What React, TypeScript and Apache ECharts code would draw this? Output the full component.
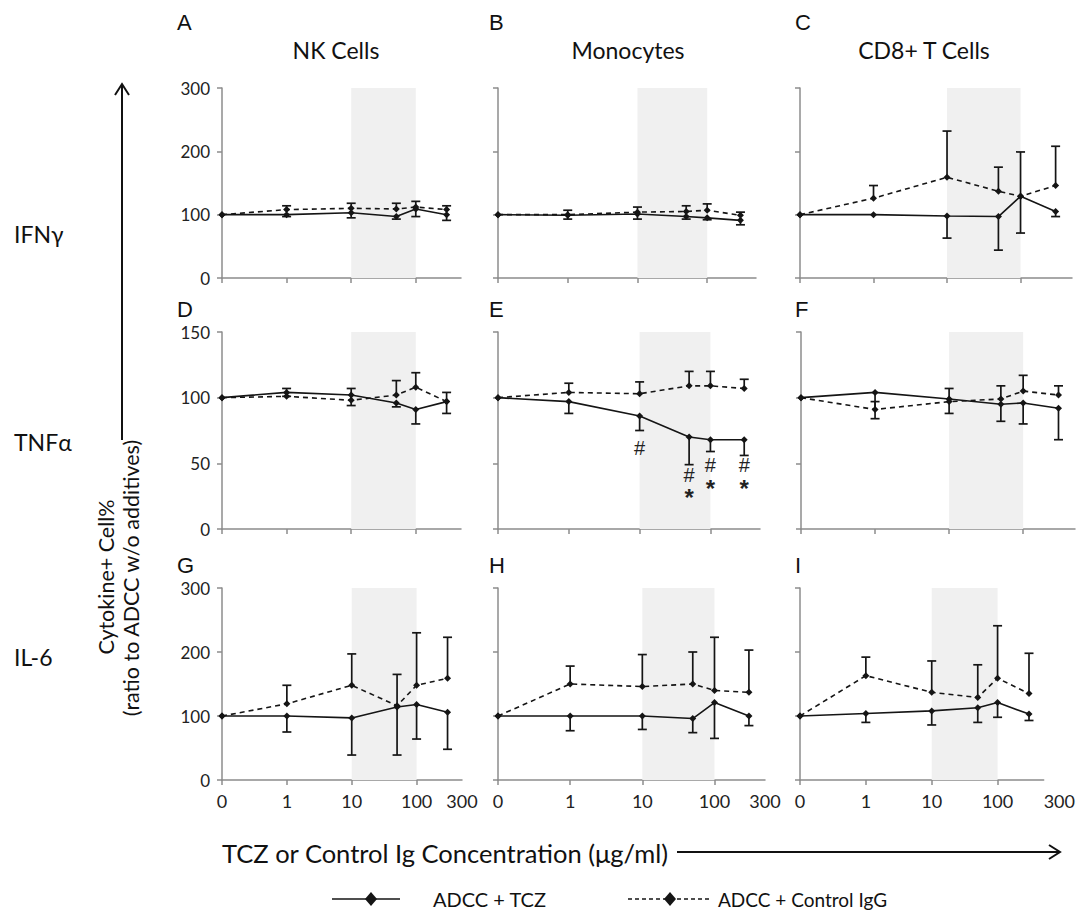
import React, { useEffect, useRef } from "react";
import * as echarts from "echarts";

// ---------- data ----------
const concentrations = [0, 1, 10, 50, 100, 300];
const xTickValues = [0, 1, 10, 100, 300];
const xTickLabels = ["0", "1", "10", "100", "300"];
const cellTypes = ["NK Cells", "Monocytes", "CD8+ T Cells"];
const cytokines = ["IFNγ", "TNFα", "IL-6"];
const panelLetters = ["A", "B", "C", "D", "E", "F", "G", "H", "I"];
const shadeRange = [10, 100];

// ADCC + TCZ (solid), lower error bars
const tczA = [100, 100, 103, 97, 109, 100];
const tczErrA = [0, 3, 8, 4, 12, 9];
const tczB = [100, 99, 101, 97, 95, 91];
const tczErrB = [0, 6, 8, 4, 3, 7];
const tczC = [100, 100, 98, 97, 129, 105];
const tczErrC = [0, 0, 35, 53, 58, 8];
const tczD = [100, 104, 102, 96, 91, 97];
const tczErrD = [0, 3, 8, 3, 11, 9];
const tczE = [100, 97, 86, 70, 68, 68];
const tczErrE = [0, 9, 11, 21, 9, 12];
const tczF = [100, 104, 99, 95, 96, 92];
const tczErrF = [0, 20, 11, 13, 16, 24];
const tczG = [100, 100, 97, 114, 118, 106];
const tczErrG = [0, 25, 58, 75, 54, 58];
const tczH = [100, 100, 100, 96, 121, 100];
const tczErrH = [0, 23, 21, 22, 56, 15];
const tczI = [100, 104, 108, 113, 121, 103];
const tczErrI = [0, 14, 22, 23, 23, 10];

// ADCC + Control IgG (dashed), upper error bars
const igA = [100, 108, 110, 109, 112, 108];
const igErrA = [0, 6, 8, 9, 9, 6];
const igB = [100, 100, 104, 105, 107, 99];
const igErrB = [0, 7, 8, 9, 10, 5];
const igC = [100, 126, 159, 137, 129, 146];
const igErrC = [0, 20, 73, 38, 70, 62];
const igD = [100, 101, 98, 102, 108, 97];
const igErrD = [0, 6, 9, 11, 11, 7];
const igE = [100, 104, 103, 109, 109, 107];
const igErrE = [0, 7, 9, 11, 11, 7];
const igF = [100, 91, 97, 99, 105, 102];
const igErrF = [0, 6, 10, 10, 12, 7];
const igG = [100, 119, 148, 116, 148, 159];
const igErrG = [0, 29, 49, 49, 82, 64];
const igH = [100, 150, 146, 150, 140, 137];
const igErrH = [0, 28, 50, 50, 83, 66];
const igI = [100, 163, 137, 129, 159, 135];
const igErrI = [0, 29, 49, 51, 82, 63];

// significance marks in panel E
const annotConc = [10, 50, 50, 100, 100, 300, 300];
const annotMarks = ["#", "#", "*", "#", "*", "#", "*"];
const annotY = [62, 41, 24, 49, 31, 49, 31];

const yMaxByRow = [300, 150, 300];
const yStepByRow = [100, 50, 100];

const tczSets = [tczA, tczB, tczC, tczD, tczE, tczF, tczG, tczH, tczI];
const tczErrSets = [tczErrA, tczErrB, tczErrC, tczErrD, tczErrE, tczErrF, tczErrG, tczErrH, tczErrI];
const igSets = [igA, igB, igC, igD, igE, igF, igG, igH, igI];
const igErrSets = [igErrA, igErrB, igErrC, igErrD, igErrE, igErrF, igErrG, igErrH, igErrI];

// ---------- layout ----------
const X_MAX = 3.7;
const grids = [
  { left: 222, top: 88, width: 239, height: 190 },
  { left: 498, top: 88, width: 258, height: 190 },
  { left: 800, top: 88, width: 272, height: 190 },
  { left: 222, top: 332, width: 239, height: 197 },
  { left: 498, top: 332, width: 262, height: 197 },
  { left: 801, top: 332, width: 274, height: 197 },
  { left: 222, top: 588, width: 240, height: 192 },
  { left: 498, top: 588, width: 267, height: 192 },
  { left: 800, top: 588, width: 255, height: 192 },
];
const letterPos = [
  [177, 22], [489, 22], [795, 22],
  [177, 309], [489, 309], [795, 309],
  [177, 565], [489, 565], [795, 565],
];

const xPos = (c: number) => (c === 0 ? 0 : 1 + Math.log10(c));

const INK = "#151515";
const AXIS = "#8c8c8c";
const CAL = "Lato, 'Open Sans', sans-serif";
const ARIAL = "'Liberation Sans', Arial, sans-serif";

function xLabel(v: number) {
  if (Math.abs(v - X_MAX) < 1e-6) return xTickLabels[xTickLabels.length - 1];
  for (let k = 0; k < xTickValues.length - 1; k++) {
    if (Math.abs(xPos(xTickValues[k]) - v) < 1e-6) return xTickLabels[k];
  }
  return "";
}

function errRender(dir: number) {
  return (params: any, api: any) => {
    const x = api.value(0);
    const y = api.value(1);
    const e = api.value(2);
    if (!e) return null;
    const p0 = api.coord([x, y]);
    const p1 = api.coord([x, y + dir * e]);
    const hw = 4.5;
    const st = { stroke: INK, lineWidth: 1.7 };
    return {
      type: "group",
      children: [
        { type: "line", shape: { x1: p0[0], y1: p0[1], x2: p1[0], y2: p1[1] }, style: st },
        { type: "line", shape: { x1: p1[0] - hw, y1: p1[1], x2: p1[0] + hw, y2: p1[1] }, style: st },
      ],
    };
  };
}

function buildOption() {
  const grid: any[] = [];
  const xAxis: any[] = [];
  const yAxis: any[] = [];
  const series: any[] = [];

  for (let i = 0; i < 9; i++) {
    const row = Math.floor(i / 3);
    const col = i % 3;
    grid.push({ ...grids[i], containLabel: false });
    xAxis.push({
      gridIndex: i,
      type: "value",
      min: 0,
      max: X_MAX,
      interval: 1,
      axisLine: { show: true, lineStyle: { color: AXIS, width: 1.5 } },
      axisTick: { show: true, customValues: [0, 1, 2, 3], length: 5, lineStyle: { color: AXIS, width: 1.5 } },
      axisLabel: {
        show: row === 2,
        showMinLabel: true,
        showMaxLabel: true,
        formatter: (v: number) => xLabel(v),
        fontSize: 18,
        fontFamily: CAL,
        color: "#222",
        margin: 12,
        alignMaxLabel: col === 2 ? "left" : "center",
      },
      splitLine: { show: false },
    });
    yAxis.push({
      gridIndex: i,
      type: "value",
      min: 0,
      max: yMaxByRow[row],
      interval: yStepByRow[row],
      axisLine: { show: true, lineStyle: { color: AXIS, width: 1.5 } },
      axisTick: { show: true, length: 5, lineStyle: { color: AXIS, width: 1.5 } },
      axisLabel: { show: col === 0, fontSize: 17, fontFamily: CAL, color: "#222", margin: 12 },
      splitLine: { show: false },
    });

    const tcz = tczSets[i];
    const ig = igSets[i];
    series.push({
      type: "line",
      name: "ADCC + TCZ",
      xAxisIndex: i,
      yAxisIndex: i,
      data: concentrations.map((c, j) => [xPos(c), tcz[j]]),
      symbol: "diamond",
      symbolSize: 7,
      itemStyle: { color: INK },
      lineStyle: { color: INK, width: 1.6, type: "solid" },
      z: 3,
      markArea: {
        silent: true,
        z: 1,
        itemStyle: { color: "#f0f0f0" },
        data: [[{ xAxis: xPos(shadeRange[0]) }, { xAxis: xPos(shadeRange[1]) }]],
      },
    });
    series.push({
      type: "line",
      name: "ADCC + Control IgG",
      xAxisIndex: i,
      yAxisIndex: i,
      data: concentrations.map((c, j) => [xPos(c), ig[j]]),
      symbol: "diamond",
      symbolSize: 7,
      itemStyle: { color: INK },
      lineStyle: { color: INK, width: 1.6, type: [5, 4] },
      z: 3,
    });
    series.push({
      type: "custom",
      xAxisIndex: i,
      yAxisIndex: i,
      renderItem: errRender(-1),
      encode: { x: 0, y: 1 },
      data: concentrations.map((c, j) => [xPos(c), tcz[j], tczErrSets[i][j]]),
      z: 3,
    });
    series.push({
      type: "custom",
      xAxisIndex: i,
      yAxisIndex: i,
      renderItem: errRender(1),
      encode: { x: 0, y: 1 },
      data: concentrations.map((c, j) => [xPos(c), ig[j], igErrSets[i][j]]),
      z: 3,
    });
  }

  // significance annotations in panel E (index 4)
  series.push({
    type: "custom",
    xAxisIndex: 4,
    yAxisIndex: 4,
    encode: { x: 0, y: 1 },
    renderItem: (params: any, api: any) => {
      const p = api.coord([api.value(0), api.value(1)]);
      const mark = annotMarks[params.dataIndex];
      return {
        type: "text",
        x: p[0],
        y: p[1],
        style: {
          text: mark,
          fontSize: mark === "*" ? 24 : 20,
          fontWeight: mark === "*" ? "bold" : "normal",
          fontFamily: ARIAL,
          fill: "#222",
          align: "center",
          verticalAlign: "middle",
        },
      };
    },
    data: annotConc.map((c, j) => [xPos(c), annotY[j]]),
    z: 4,
  });

  const graphic: any[] = [];
  panelLetters.forEach((t, i) => {
    graphic.push({
      type: "text",
      x: letterPos[i][0],
      y: letterPos[i][1],
      style: { text: t, fontSize: 22, fontFamily: ARIAL, fill: "#111", align: "left", verticalAlign: "middle" },
    });
  });
  const titleX = [336, 628, 924];
  cellTypes.forEach((t, i) => {
    graphic.push({
      type: "text",
      x: titleX[i],
      y: 50,
      style: { text: t, fontSize: 23, fontFamily: CAL, fill: "#111", align: "center", verticalAlign: "middle" },
    });
  });
  const rowY = [234, 442, 657];
  cytokines.forEach((t, i) => {
    graphic.push({
      type: "text",
      x: 14,
      y: rowY[i],
      style: { text: t, fontSize: 23, fontFamily: CAL, fill: "#111", align: "left", verticalAlign: "middle" },
    });
  });
  // vertical arrow
  graphic.push({ type: "line", shape: { x1: 122, y1: 440, x2: 122, y2: 85 }, style: { stroke: "#111", lineWidth: 2 } });
  graphic.push({
    type: "polyline",
    shape: { points: [[115, 95], [122, 84], [129, 95]] },
    style: { stroke: "#111", lineWidth: 2, fill: null },
  });
  // y title
  graphic.push({
    type: "text",
    x: 106,
    y: 577,
    rotation: Math.PI / 2,
    style: { text: "Cytokine+ Cell%", fontSize: 21.5, fontFamily: CAL, fill: "#111", align: "center", verticalAlign: "middle" },
  });
  graphic.push({
    type: "text",
    x: 131,
    y: 578,
    rotation: Math.PI / 2,
    style: {
      text: "(ratio to ADCC w/o additives)",
      fontSize: 21.5,
      fontFamily: CAL,
      fill: "#111",
      align: "center",
      verticalAlign: "middle",
    },
  });
  // x title + arrow
  graphic.push({
    type: "text",
    x: 222,
    y: 853,
    style: {
      text: "TCZ or Control Ig Concentration (μg/ml)",
      fontSize: 25.5,
      fontFamily: CAL,
      fill: "#111",
      align: "left",
      verticalAlign: "middle",
    },
  });
  graphic.push({ type: "line", shape: { x1: 677, y1: 852, x2: 1060, y2: 852 }, style: { stroke: "#111", lineWidth: 2 } });
  graphic.push({
    type: "polyline",
    shape: { points: [[1049, 845], [1060, 852], [1049, 859]] },
    style: { stroke: "#111", lineWidth: 2, fill: null },
  });
  // legend
  const legY = 899;
  graphic.push({ type: "line", shape: { x1: 332, y1: legY, x2: 400, y2: legY }, style: { stroke: INK, lineWidth: 1.6 } });
  graphic.push({
    type: "polygon",
    shape: { points: [[371, legY - 7], [377, legY], [371, legY + 7], [365, legY]] },
    style: { fill: INK },
  });
  graphic.push({
    type: "text",
    x: 433,
    y: legY,
    style: { text: "ADCC + TCZ", fontSize: 20, fontFamily: CAL, fill: "#111", align: "left", verticalAlign: "middle" },
  });
  graphic.push({
    type: "line",
    shape: { x1: 628, y1: legY, x2: 712, y2: legY },
    style: { stroke: INK, lineWidth: 1.6, lineDash: [4, 3] },
  });
  graphic.push({
    type: "polygon",
    shape: { points: [[670, legY - 7], [676, legY], [670, legY + 7], [664, legY]] },
    style: { fill: INK },
  });
  graphic.push({
    type: "text",
    x: 718,
    y: legY,
    style: { text: "ADCC + Control IgG", fontSize: 19, fontFamily: CAL, fill: "#111", align: "left", verticalAlign: "middle" },
  });

  return {
    animation: false,
    backgroundColor: "#ffffff",
    grid,
    xAxis,
    yAxis,
    series,
    graphic,
  };
}

export default function App() {
  const ref = useRef<HTMLDivElement>(null);
  useEffect(() => {
    if (!ref.current) return;
    const chart = echarts.init(ref.current, null, { renderer: "svg" });
    chart.setOption(buildOption() as any);
    return () => chart.dispose();
  }, []);
  return (
    <div
      ref={ref}
      style={{ position: "absolute", left: 0, top: 0, width: 1078, height: 910, background: "#fff" }}
    />
  );
}
